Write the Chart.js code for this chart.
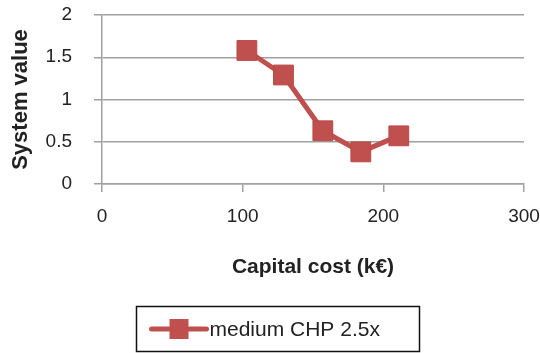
<!DOCTYPE html>
<html>
<head>
<meta charset="utf-8">
<script src="https://cdn.jsdelivr.net/npm/chart.js@4"></script>
<style>
  html, body { margin: 0; padding: 0; background: #ffffff; }
  #wrap { width: 540px; height: 353px; }
</style>
</head>
<body>
<div id="wrap"><canvas id="chart" width="540" height="353"></canvas></div>
<script>
// Capital cost (k€) against system value
const capitalCost = [103, 129, 157, 184, 211];
const systemValue = [1.58, 1.29, 0.63, 0.38, 0.57];
const seriesName = 'medium CHP 2.5x';
const xTicks = [0, 100, 200, 300];
const yTicks = [0, 0.5, 1, 1.5, 2];

const RED = '#C0504D';
const GRID = '#A0A0A0';
const TEXT = '#222222';
const FONT = "'Liberation Sans', Arial, sans-serif";

// Excel-style boxed legend with a line-and-square sample
const boxedLegend = {
  id: 'boxedLegend',
  afterDraw(chart, args, opts) {
    const ctx = chart.ctx;
    const ds = chart.data.datasets[0];
    const b = opts.box;
    ctx.save();
    ctx.strokeStyle = '#111111';
    ctx.lineWidth = 1.5;
    ctx.strokeRect(b.x, b.y, b.w, b.h);
    const cy = b.y + b.h / 2;
    ctx.strokeStyle = ds.borderColor;
    ctx.lineWidth = ds.borderWidth;
    ctx.lineCap = 'round';
    ctx.beginPath();
    ctx.moveTo(b.x + 15, cy);
    ctx.lineTo(b.x + 70, cy);
    ctx.stroke();
    ctx.fillStyle = ds.pointBackgroundColor;
    ctx.fillRect(b.x + 33, cy - 10, 19, 20);
    ctx.fillStyle = TEXT;
    ctx.font = "21px " + FONT;
    ctx.textBaseline = 'middle';
    ctx.textAlign = 'left';
    ctx.fillText(ds.label, b.x + 73, cy + 1);
    ctx.restore();
  }
};

new Chart(document.getElementById('chart'), {
  type: 'scatter',
  data: {
    datasets: [{
      label: seriesName,
      data: capitalCost.map((x, i) => ({ x: x, y: systemValue[i] })),
      showLine: true,
      borderColor: RED,
      borderWidth: 5,
      pointStyle: 'rect',
      pointRadius: 14,
      pointHoverRadius: 14,
      pointBackgroundColor: RED,
      pointBorderColor: '#B84A47',
      pointBorderWidth: 1
    }]
  },
  options: {
    responsive: false,
    animation: false,
    layout: { padding: { left: 0, right: 16, top: 14, bottom: 63 } },
    plugins: {
      legend: { display: false },
      tooltip: { enabled: false },
      boxedLegend: { box: { x: 136.5, y: 306.5, w: 283, h: 45 } }
    },
    scales: {
      x: {
        type: 'linear',
        min: 0,
        max: 300,
        afterBuildTicks(scale) { scale.ticks = xTicks.map(v => ({ value: v })); },
        afterFit(scale) {
          scale.height = 106;
          scale.paddingLeft = 0;
          scale.paddingRight = 0;
        },
        grid: {
          drawOnChartArea: false,
          drawTicks: true,
          tickLength: 8,
          color: GRID,
          lineWidth: 1.5
        },
        border: { display: true, color: GRID, width: 1.5 },
        ticks: {
          color: TEXT,
          padding: 13,
          maxRotation: 0,
          callback: v => String(v),
          font: { family: FONT, size: 19 }
        },
        title: {
          display: true,
          text: 'Capital cost (k€)',
          color: TEXT,
          padding: { top: 0, bottom: 10 },
          font: { family: FONT, size: 21, weight: 'bold' }
        }
      },
      y: {
        type: 'linear',
        min: 0,
        max: 2,
        afterBuildTicks(scale) { scale.ticks = yTicks.map(v => ({ value: v })); },
        afterFit(scale) {
          scale.width = 102;
          scale.paddingTop = 0;
          scale.paddingBottom = 0;
        },
        grid: {
          drawTicks: true,
          tickLength: 8,
          color: GRID,
          lineWidth: 1.5
        },
        border: { display: true, color: GRID, width: 1.5 },
        ticks: {
          color: TEXT,
          padding: 22,
          callback: v => String(v),
          font: { family: FONT, size: 19 }
        },
        title: {
          display: true,
          text: 'System value',
          color: TEXT,
          padding: { top: 8, bottom: 0 },
          font: { family: FONT, size: 22, weight: 'bold' }
        }
      }
    }
  },
  plugins: [boxedLegend]
});
</script>
</body>
</html>
